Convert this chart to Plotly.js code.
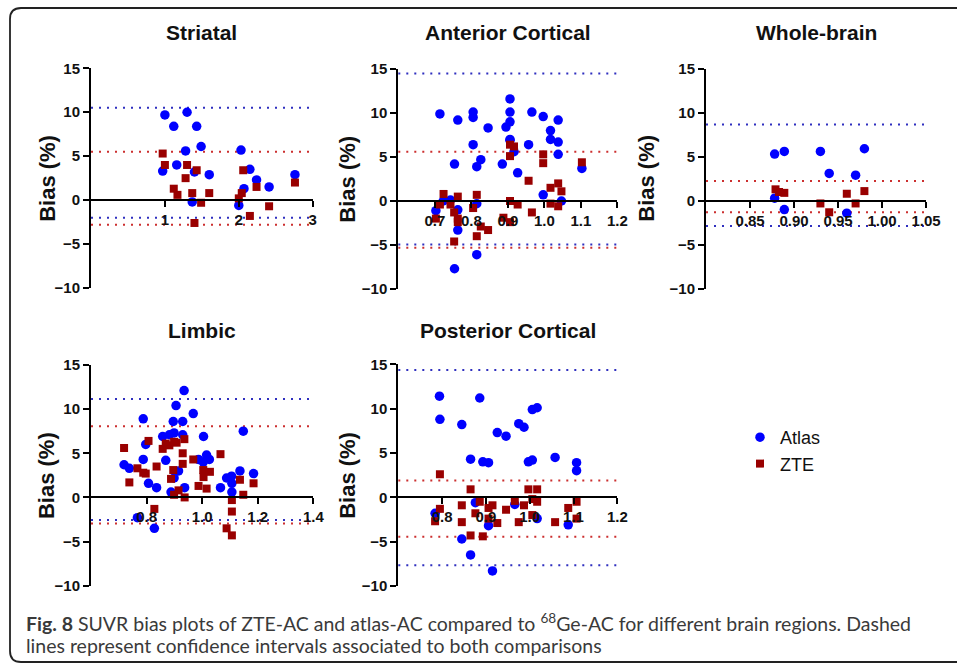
<!DOCTYPE html>
<html><head><meta charset="utf-8">
<script src="https://cdn.plot.ly/plotly-3.0.1.min.js"></script>
<style>html,body{margin:0;padding:0;background:#fff;} #chart{width:957px;height:664px;}</style>
</head><body><div id="chart"></div>
<script>
// ---------------- DATA ----------------
const panelTitles = ["Striatal", "Anterior Cortical", "Whole-brain", "Limbic", "Posterior Cortical"];
const seriesNames = ["Atlas", "ZTE"];
const yAxisTitle = "Bias (%)";

const striatalAtlasX = [1.00,1.12,1.30,1.43,1.28,1.49,0.97,1.16,1.40,1.60,1.37,2.03,2.15,2.24,2.41,2.76,2.07,2.00];
const striatalAtlasY = [9.7,8.4,10.0,8.4,5.6,6.1,3.3,4.0,3.2,2.9,-0.2,5.7,3.5,2.3,1.5,2.9,1.3,-0.6];
const striatalZteX = [0.97,1.00,1.12,1.17,1.30,1.28,1.43,1.37,1.49,1.60,1.40,2.06,2.00,2.04,2.24,2.15,2.41,2.76];
const striatalZteY = [5.3,4.0,1.3,0.6,4.0,2.5,3.4,0.8,-0.3,0.8,-2.6,3.4,0.2,0.8,1.5,-1.8,-0.7,2.0];
const striatalAtlasLimits = [10.5, -2.0];
const striatalZteLimits = [5.5, -2.8];

const anteriorAtlasX = [0.714,0.703,0.723,0.743,0.763,0.763,0.754,0.754,0.763,0.805,0.805,0.805,0.815,0.826,0.846,0.815,0.815,0.885,0.895,0.906,0.906,0.906,0.906,0.906,0.917,0.927,0.966,0.957,0.997,1.017,1.017,1.038,1.038,1.038,0.997,1.047,1.103];
const anteriorAtlasY = [9.9,-1.1,0.0,0.1,-1.0,-3.3,4.2,-7.7,9.2,10.1,9.5,6.4,3.9,4.7,8.3,-0.3,-6.1,4.2,8.4,9.0,10.1,11.6,7.0,6.9,5.6,3.2,10.1,6.4,9.6,8.0,7.0,9.2,6.7,5.3,0.7,0.0,3.7];
const anteriorZteX = [0.703,0.714,0.724,0.743,0.753,0.753,0.763,0.763,0.763,0.805,0.815,0.815,0.826,0.846,0.888,0.906,0.906,0.906,0.906,0.917,0.927,0.957,0.966,0.997,0.997,1.017,1.017,1.038,1.038,1.047,1.103];
const anteriorZteY = [-2.0,-0.4,0.8,-0.4,-1.3,-4.6,0.5,-2.0,-2.4,-0.8,0.7,-4.0,-2.9,-3.3,-1.9,-2.4,0.0,6.4,5.1,6.2,-0.4,2.3,-1.3,5.3,4.3,1.5,-0.3,2.0,-0.6,1.1,4.4];
const anteriorAtlasLimits = [14.5, -4.95];
const anteriorZteLimits = [5.6, -5.3];

const wholeAtlasX = [0.878,0.889,0.930,0.940,0.970,0.980,0.878,0.889,0.960];
const wholeAtlasY = [5.3,5.6,5.6,3.1,2.9,5.9,0.3,-1.0,-1.4];
const wholeZteX = [0.879,0.883,0.889,0.930,0.940,0.960,0.970,0.980];
const wholeZteY = [1.3,1.0,0.9,-0.3,-1.3,0.8,-0.3,1.1];
const wholeAtlasLimits = [8.65, -2.85];
const wholeZteLimits = [2.25, -1.3];

const limbicAtlasX = [0.719,0.738,0.767,0.788,0.788,0.797,0.807,0.836,0.828,0.858,0.869,0.882,0.899,0.896,0.906,0.888,0.899,0.915,0.930,0.930,0.935,0.937,0.968,0.987,1.004,1.005,1.016,1.026,1.066,1.088,1.106,1.107,1.107,1.136,1.148,1.185];
const limbicAtlasY = [3.7,3.3,-2.3,8.9,4.3,6.0,1.6,1.1,-3.5,6.9,4.2,7.1,7.3,8.6,10.4,0.6,2.2,3.0,8.6,7.1,12.1,1.1,9.5,4.3,4.0,6.9,4.8,4.3,1.1,2.2,2.4,1.6,0.6,3.0,7.5,2.7];
const limbicZteX = [0.719,0.738,0.767,0.788,0.797,0.807,0.836,0.828,0.858,0.869,0.882,0.899,0.908,0.888,0.896,0.899,0.915,0.930,0.930,0.936,0.937,0.968,0.987,1.004,1.005,1.016,1.028,1.066,1.088,1.107,1.107,1.107,1.136,1.148,1.185];
const limbicZteY = [5.6,1.7,3.3,2.8,2.7,6.4,3.5,-1.3,5.5,6.1,5.9,6.3,6.2,2.1,3.1,0.3,0.8,5.0,3.8,6.6,0.0,4.3,1.3,3.1,2.3,1.0,2.9,4.9,-3.5,-4.3,-0.3,-1.6,2.0,0.3,1.6];
const limbicAtlasLimits = [11.15, -2.55];
const limbicZteLimits = [8.05, -2.95];

const posteriorAtlasX = [0.794,0.795,0.784,0.845,0.865,0.845,0.865,0.876,0.886,0.893,0.906,0.906,0.915,0.926,0.946,0.966,0.975,0.987,0.997,1.006,1.006,1.017,1.017,1.058,1.088,1.107,1.107];
const posteriorAtlasY = [11.4,8.8,-1.8,8.2,4.3,-4.7,-6.5,-0.6,11.2,4.0,3.9,-3.2,-8.3,7.3,6.9,-0.8,8.3,7.9,4.0,4.2,9.9,10.1,-2.4,4.5,-3.1,3.9,3.0];
const posteriorZteX = [0.784,0.795,0.795,0.845,0.845,0.865,0.865,0.876,0.886,0.893,0.906,0.906,0.915,0.926,0.946,0.966,0.975,0.987,0.997,1.006,1.006,1.017,1.017,1.058,1.088,1.107,1.107];
const posteriorZteY = [-2.7,-1.3,2.6,-0.9,-2.8,0.9,-4.3,-1.8,-0.5,-4.4,-1.2,-2.4,-0.9,-2.9,-1.4,-0.4,-2.8,-0.9,0.9,-2.0,-0.2,0.9,-0.5,-2.8,-1.2,-0.5,-2.4];
const posteriorAtlasLimits = [14.35, -7.65];
const posteriorZteLimits = [1.9, -4.45];

const yTicks = [-10, -5, 0, 5, 10, 15];
const striatalXTicks = [1, 2, 3];
const anteriorXTicks = [0.7, 0.8, 0.9, 1.0, 1.1, 1.2];
const wholeXTicks = [0.85, 0.90, 0.95, 1.00, 1.05];
const limbicXTicks = [0.8, 1.0, 1.2, 1.4];
const posteriorXTicks = [0.8, 0.9, 1.0, 1.1, 1.2];

const captionLine1 = "<b>Fig. 8</b> SUVR bias plots of ZTE-AC and atlas-AC compared to <sup>68</sup>Ge-AC for different brain regions. Dashed";
const captionLine2 = "lines represent confidence intervals associated to both comparisons";

// ---------------- LAYOUT ----------------
const W = 957, H = 664;
const fx = v => v / W;
const fy = v => 1 - v / H;
const BOLD = "Liberation Sans, Arial, sans-serif";
const BLUE = "#0000ff", RED = "#990000";
const BLUE_LINE = "#2f2fbf", RED_LINE = "#cc2f2f";

const panels = [
  {ax: [91, 312.7], ay: [68.3, 288], xr: [0, 3], ticks: striatalXTicks, fmt: "d", tx: 46.7,
   ax_: striatalAtlasX, ay_: striatalAtlasY, zx: striatalZteX, zy: striatalZteY, la: striatalAtlasLimits, lz: striatalZteLimits},
  {ax: [398.3, 617.3], ay: [69, 289], xr: [0.6, 1.2], ticks: anteriorXTicks, fmt: ".1f", tx: 346.7,
   ax_: anteriorAtlasX, ay_: anteriorAtlasY, zx: anteriorZteX, zy: anteriorZteY, la: anteriorAtlasLimits, lz: anteriorZteLimits},
  {ax: [706, 926], ay: [68.5, 289], xr: [0.8, 1.05], ticks: wholeXTicks, fmt: ".2f", tx: 647,
   ax_: wholeAtlasX, ay_: wholeAtlasY, zx: wholeZteX, zy: wholeZteY, la: wholeAtlasLimits, lz: wholeZteLimits},
  {ax: [91, 313.3], ay: [365, 585.7], xr: [0.6, 1.4], ticks: limbicXTicks, fmt: ".1f", tx: 46.7,
   ax_: limbicAtlasX, ay_: limbicAtlasY, zx: limbicZteX, zy: limbicZteY, la: limbicAtlasLimits, lz: limbicZteLimits},
  {ax: [398.3, 617.3], ay: [364.3, 586], xr: [0.7, 1.2], ticks: posteriorXTicks, fmt: ".1f", tx: 346.7,
   ax_: posteriorAtlasX, ay_: posteriorAtlasY, zx: posteriorZteX, zy: posteriorZteY, la: posteriorAtlasLimits, lz: posteriorZteLimits}
];
const titleY = [33, 33, 33, 330, 330];

const data = [];
const layout = {
  width: W, height: H,
  margin: {l: 0, r: 0, t: 0, b: 0},
  paper_bgcolor: "#fff", plot_bgcolor: "rgba(0,0,0,0)",
  showlegend: true,
  legend: {x: fx(740), y: fy(419), xanchor: "left", yanchor: "top",
           font: {family: BOLD, size: 18, color: "#111"}, bgcolor: "rgba(0,0,0,0)",
           tracegroupgap: 0, itemwidth: 30},
  shapes: [], annotations: []
};
const yRange = [-10, 15];
const tickFont = {family: BOLD, size: 15, weight: "bold", color: "#111"};

panels.forEach((p, i) => {
  const n = i === 0 ? "" : String(i + 1);
  const yb = fy(p.ay[1]), yt = fy(p.ay[0]);
  const zeroPos = yb + (0 - yRange[0]) / (yRange[1] - yRange[0]) * (yt - yb);
  layout["xaxis" + n] = {
    domain: [fx(p.ax[0]), fx(p.ax[1])], anchor: "free", position: zeroPos,
    range: p.xr, tickvals: p.ticks, tickformat: p.fmt,
    showline: true, linecolor: "#000", linewidth: 2,
    ticks: "outside", ticklen: 6, tickwidth: 2, tickcolor: "#000",
    tickfont: tickFont, showgrid: false, zeroline: false, fixedrange: true
  };
  layout["yaxis" + n] = {
    domain: [yb, yt], anchor: "x" + n, range: yRange, tickvals: yTicks,
    showline: true, linecolor: "#000", linewidth: 2,
    ticks: "outside", ticklen: 6, tickwidth: 2, tickcolor: "#000",
    tickfont: tickFont, showgrid: false, zeroline: false, fixedrange: true
  };
  // limit-of-agreement dotted lines
  [[p.la, BLUE_LINE], [p.lz, RED_LINE]].forEach(([vals, col]) => {
    vals.forEach(v => layout.shapes.push({
      type: "line", xref: "x" + n + " domain", yref: "y" + n,
      x0: 0, x1: 1, y0: v, y1: v, layer: "below",
      line: {color: col, width: 2, dash: "2px,6px"}
    }));
  });
  data.push({type: "scatter", mode: "markers", x: p.ax_, y: p.ay_, xaxis: "x" + n, yaxis: "y" + n,
    name: seriesNames[0], legendgroup: "a", showlegend: i === 0, cliponaxis: false,
    marker: {color: BLUE, size: 9.5, symbol: "circle", line: {width: 0}}, hoverinfo: "x+y"});
  data.push({type: "scatter", mode: "markers", x: p.zx, y: p.zy, xaxis: "x" + n, yaxis: "y" + n,
    name: seriesNames[1], legendgroup: "z", showlegend: i === 0, cliponaxis: false,
    marker: {color: RED, size: 8, symbol: "square", line: {width: 0}}, hoverinfo: "x+y"});
  layout.annotations.push({
    xref: "paper", yref: "paper", x: (fx(p.ax[0]) + fx(p.ax[1])) / 2, y: fy(titleY[i]),
    xanchor: "center", yanchor: "middle", showarrow: false,
    text: panelTitles[i], font: {family: BOLD, size: 21, weight: "bold", color: "#111"}
  });
  layout.annotations.push({
    xref: "paper", yref: "paper", x: fx(p.tx), y: (yb + yt) / 2,
    xanchor: "center", yanchor: "middle", showarrow: false, textangle: -90,
    text: yAxisTitle, font: {family: BOLD, size: 22, weight: "bold", color: "#111"}
  });
});

// caption
const CAP = "Lato, 'Open Sans', sans-serif";
layout.annotations.push({xref: "paper", yref: "paper", x: fx(24), y: fy(622), xanchor: "left", yanchor: "middle",
  showarrow: false, text: captionLine1, font: {family: CAP, size: 19.5, color: "#3a3a3a"}});
layout.annotations.push({xref: "paper", yref: "paper", x: fx(24), y: fy(645), xanchor: "left", yanchor: "middle",
  showarrow: false, text: captionLine2, font: {family: CAP, size: 19.5, color: "#3a3a3a"}});

// frame with rounded corners (left, top, bottom visible)
const L = 10, T = 8, B = 662, R = 975, r = 11;
const P = (x, y) => fx(x) + "," + fy(y);
layout.shapes.push({type: "path", xref: "paper", yref: "paper",
  path: "M" + P(R, T) + " L" + P(L + r, T) + " Q" + P(L, T) + " " + P(L, T + r) +
        " L" + P(L, B - r) + " Q" + P(L, B) + " " + P(L + r, B) + " L" + P(R, B),
  line: {color: "#222", width: 1.8}});

Plotly.newPlot("chart", data, layout, {displayModeBar: false, staticPlot: true});
</script>
</body></html>
